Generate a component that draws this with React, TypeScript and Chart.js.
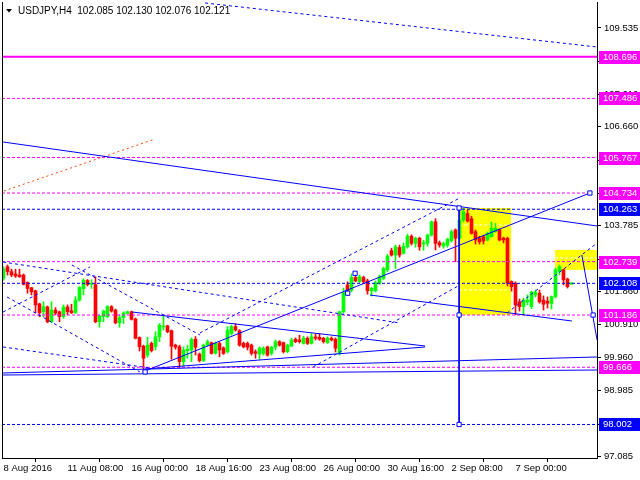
import React, { useEffect, useRef } from 'react';
import { Chart, registerables } from 'chart.js';
Chart.register(...registerables);

// ---- candle data (H4 bars, index 0 = 8 Aug 2016 16:00) ----
const OPEN = [102.26,102.59,102.45,102.38,102.35,102.35,102.13,101.98,101.89,101.51,101.28,101.42,100.99,101.33,101.28,101.14,101.42,101.31,101.25,101.62,101.95,102.19,102.08,102.07,100.99,101.14,101.14,101.43,101.33,100.96,101.11,101.23,101.28,101.07,100.53,100.28,100.02,100.36,100.26,100.55,100.84,100.87,100.73,100.31,100.26,99.83,100.15,100.17,100.48,100.05,99.86,100.31,100.38,100.07,100.36,100.23,100.12,100.65,100.85,100.73,100.36,100.36,100.31,100.12,100.05,100.07,100.26,100.07,100.25,100.41,100.38,100.12,100.29,100.48,100.46,100.36,100.51,100.36,100.55,100.54,100.51,100.38,100.51,100.48,100.07,101.28,102.06,101.91,102.28,102.16,102.28,102.18,101.89,101.89,102.11,102.25,102.50,103.06,102.93,103.15,102.98,103.17,103.48,103.27,103.42,103.25,103.27,103.51,103.90,103.29,103.19,103.22,103.35,103.66,103.42,103.95,104.14,103.99,103.61,103.42,103.46,103.37,103.46,103.61,103.66,103.42,103.42,102.16,102.11,101.57,101.43,101.57,101.43,101.77,101.82,101.62,101.59,101.52,101.72,102.45,102.50,102.23,102.085];
const HIGH = [102.59,102.64,102.52,102.52,102.52,102.38,102.15,101.99,101.91,101.53,101.57,101.45,101.57,101.40,101.30,101.48,101.48,101.50,101.72,102.01,102.24,102.22,102.21,102.30,101.19,101.33,101.46,101.46,101.36,101.19,101.28,101.30,101.30,101.10,100.55,100.31,100.54,100.40,100.70,100.94,101.19,100.89,100.75,100.34,100.31,100.26,100.31,100.52,100.56,100.08,100.34,100.46,100.40,100.40,100.40,100.26,100.85,100.89,100.94,100.76,100.40,100.40,100.34,100.17,100.26,100.26,100.28,100.28,100.46,100.44,100.40,100.34,100.51,100.52,100.60,100.57,100.55,100.65,100.63,100.65,100.54,100.55,100.55,100.52,101.30,101.97,102.15,102.38,102.45,102.35,102.32,102.23,101.99,102.18,102.35,102.58,102.95,103.13,103.22,103.22,103.28,103.54,103.52,103.45,103.45,103.36,103.54,103.92,103.99,103.34,103.31,103.42,103.66,103.69,104.24,104.29,104.24,104.06,103.66,103.48,103.51,103.60,103.89,103.85,103.69,103.45,103.45,102.18,102.15,101.65,101.68,101.77,101.88,101.91,101.91,101.74,101.71,101.74,102.55,102.64,102.52,102.26,102.130];
const LOW = [102.20,102.35,102.30,102.28,102.28,102.06,101.82,101.77,101.25,101.14,101.14,100.96,100.96,101.19,100.99,101.09,101.19,101.23,101.23,101.59,101.77,102.03,101.96,100.96,100.83,100.99,101.11,101.27,100.93,100.83,100.94,101.21,101.04,100.49,100.14,99.53,99.96,100.11,100.17,100.41,100.75,100.67,99.90,100.19,99.64,99.69,99.93,99.83,100.02,99.82,99.83,100.28,100.05,100.05,99.97,100.04,100.08,100.60,100.72,100.28,100.23,100.17,100.02,99.93,99.90,100.02,99.99,100.02,100.17,100.28,100.08,100.09,100.26,100.38,100.37,100.34,100.33,100.34,100.46,100.45,100.37,100.36,100.43,100.11,100.02,101.24,101.86,101.86,102.15,102.12,102.12,101.79,101.74,101.86,102.08,102.22,102.44,102.90,102.54,102.87,102.96,103.13,103.22,103.16,103.07,103.07,103.19,103.48,103.08,103.16,103.13,103.16,103.31,102.74,103.39,103.89,103.89,103.54,103.25,103.25,103.25,103.34,103.45,103.59,103.34,103.28,102.03,101.88,101.19,101.30,101.19,101.48,101.37,101.71,101.53,101.33,101.39,101.36,101.68,102.35,102.06,101.97,102.076];
const CLOSE = [102.53,102.45,102.35,102.32,102.30,102.08,101.96,101.86,101.48,101.25,101.43,100.99,101.33,101.24,101.14,101.42,101.28,101.25,101.62,101.99,102.19,102.07,102.10,100.99,101.16,101.30,101.43,101.30,100.96,101.11,101.25,101.28,101.06,100.51,100.26,99.93,100.31,100.15,100.55,100.89,100.87,100.70,100.28,100.25,99.83,100.17,100.19,100.48,100.25,99.86,100.31,100.41,100.07,100.36,100.17,100.07,100.75,100.85,100.75,100.31,100.26,100.25,100.07,100.07,100.22,100.22,100.02,100.25,100.41,100.31,100.12,100.31,100.46,100.41,100.41,100.51,100.36,100.55,100.51,100.48,100.41,100.51,100.46,100.22,101.28,101.84,101.89,102.28,102.18,102.30,102.16,101.89,101.96,102.13,102.30,102.54,102.90,102.93,103.17,102.93,103.19,103.48,103.27,103.42,103.17,103.29,103.51,103.90,103.27,103.22,103.27,103.39,103.61,103.42,103.95,104.19,103.92,103.56,103.37,103.32,103.34,103.56,103.71,103.71,103.37,103.37,102.11,102.01,101.48,101.43,101.62,101.62,101.85,101.85,101.57,101.50,101.53,101.72,102.50,102.59,102.21,102.01,102.121];

// ---- axes ----
const X_MIN = -0.375;
const X_MAX = 148.375;
const Y_MIN = 97.027;
const Y_MAX = 110.291;
const X_TICK_BARS = [0, 16, 32, 48, 64, 80, 96, 112, 128];
const X_TICK_LABELS = ['8 Aug 2016', '11 Aug 08:00', '16 Aug 00:00', '18 Aug 16:00', '23 Aug 08:00', '26 Aug 00:00', '30 Aug 16:00', '2 Sep 08:00', '7 Sep 00:00'];
const Y_TICKS = [109.535, 108.56, 107.61, 106.66, 105.685, 104.735, 103.785, 102.81, 101.86, 100.91, 99.96, 98.985, 98.01, 97.085];

// ---- header ----
const SYMBOL = 'USDJPY,H4';
const HEADER_OHLC = [102.085, 102.130, 102.076, 102.121];

// ---- horizontal levels ----
const LEVELS = [108.696, 107.486, 105.767, 104.734, 104.263, 102.739, 102.108, 101.186, 99.666, 98.002];
const LEVEL_KIND = ['strong', 'magenta', 'magenta', 'magenta', 'blue', 'magenta', 'blue', 'magenta', 'magenta', 'blue'];

// ---- trend lines (bar index, price) ----
const TL_X0 = [50.4, -0.1, 0.1, 35.4, -0.1, -0.1, 32.1, 35.4, 91.6, -0.1, -0.1, 0.9, -0.1, 17.1, 49.1, 77.4, 125.9, 144.6, 113.9];
const TL_Y0 = [110.262, 106.219, 104.793, 99.558, 99.500, 99.441, 101.274, 99.616, 101.768, 102.728, 100.256, 101.710, 101.274, 102.641, 100.663, 99.674, 101.245, 102.932, 104.30];
const TL_X1 = [148.4, 148.4, 37.9, 146.6, 148.4, 148.4, 105.4, 105.4, 142.1, 99.1, 36.6, 34.1, 21.6, 49.1, 114.1, 114.1, 148.4, 148.4, 113.9];
const TL_Y1 = [108.982, 103.775, 106.306, 104.735, 99.965, 99.587, 100.285, 100.256, 101.012, 100.954, 99.645, 99.529, 102.583, 100.605, 104.590, 102.059, 103.281, 100.459, 98.002];
const TL_KIND = ['dash', 'solid', 'orange', 'solid', 'solid', 'solid', 'solid', 'solid', 'solid', 'dash', 'dash', 'dash', 'dash', 'dash', 'dash', 'dash', 'dash', 'solid', 'solid'];

// ---- yellow zones ----
const BOX_X0 = [113.9, 137.9];
const BOX_X1 = [126.9, 148.4];
const BOX_TOP = [104.30, 103.08];
const BOX_BOTTOM = [101.19, 102.50];

// ---- white guide lines inside the zones ----
const ZL_X0 = [113.9, 113.9, 137.9];
const ZL_X1 = [126.9, 126.9, 148.4];
const ZL_Y = [103.805, 101.914, 102.845];

// ---- small square markers ----
const MARK_X = [35.4, 86.05, 87.9, 113.9, 113.9, 113.9, 146.6, 147.4];
const MARK_Y = [99.53, 101.82, 102.40, 104.30, 101.186, 98.002, 104.734, 101.186];

const FONT = "'Liberation Sans', Arial, sans-serif";

export default function App() {
  const ref = useRef<HTMLCanvasElement>(null);

  useEffect(() => {
    const canvas = ref.current;
    if (!canvas) return;
    const colors = OPEN.map((o, i) => (CLOSE[i] >= o ? '#00ff00' : '#ff0000'));
    const datasets: any[] = [];

    datasets.push({
      type: 'bar',
      data: OPEN.map((_, i) => ({ x: i, y: [LOW[i], HIGH[i]] })),
      backgroundColor: colors,
      borderWidth: 0,
      barThickness: 1,
      grouped: false,
      order: 20,
    });
    datasets.push({
      type: 'bar',
      data: OPEN.map((o, i) => ({ x: i, y: [o, CLOSE[i]] })),
      backgroundColor: colors,
      borderWidth: 0,
      barThickness: 3,
      minBarLength: 1,
      grouped: false,
      order: 19,
    });

    ZL_Y.forEach((y, k) => {
      datasets.push({
        type: 'line',
        data: [{ x: ZL_X0[k], y }, { x: ZL_X1[k], y }],
        borderColor: '#ffffff',
        borderWidth: 1,
        borderDash: [3, 2],
        pointRadius: 0,
        fill: false,
        tension: 0,
        order: 21,
      });
    });

    LEVELS.forEach((lv, k) => {
      const kind = LEVEL_KIND[k];
      const endX = lv === 104.734 ? 146.6 : X_MAX;
      datasets.push({
        type: 'line',
        data: [{ x: X_MIN, y: lv }, { x: endX, y: lv }],
        borderColor: kind === 'blue' ? '#0000ff' : '#ff00ff',
        borderWidth: kind === 'strong' ? 2 : 1,
        borderDash: kind === 'strong' ? [] : [3, 2],
        pointRadius: 0,
        fill: false,
        tension: 0,
        order: 5,
      });
    });

    TL_X0.forEach((x0, k) => {
      const kind = TL_KIND[k];
      datasets.push({
        type: 'line',
        data: [{ x: x0, y: TL_Y0[k] }, { x: TL_X1[k], y: TL_Y1[k] }],
        borderColor: kind === 'orange' ? '#ff4500' : '#0000ff',
        borderWidth: 1,
        borderDash: kind === 'solid' ? [] : kind === 'orange' ? [2, 3] : [3, 3],
        pointRadius: 0,
        fill: false,
        tension: 0,
        order: 4,
      });
    });

    datasets.push({
      type: 'line',
      data: MARK_X.map((x, k) => ({ x, y: MARK_Y[k] })),
      showLine: false,
      pointStyle: 'rect',
      pointRadius: 3,
      pointBorderWidth: 1,
      pointBackgroundColor: '#ffffff',
      pointBorderColor: '#0000ff',
      order: 1,
    });

    const overlay = {
      id: 'mtOverlay',
      beforeDatasetsDraw(chart: any) {
        const { ctx, scales, chartArea } = chart;
        const xs = scales.x;
        const ys = scales.y;
        ctx.save();
        ctx.beginPath();
        ctx.rect(chartArea.left, chartArea.top, chartArea.right - chartArea.left, chartArea.bottom - chartArea.top);
        ctx.clip();
        ctx.fillStyle = '#ffff00';
        BOX_X0.forEach((x0, k) => {
          const l = xs.getPixelForValue(x0);
          const r = xs.getPixelForValue(BOX_X1[k]);
          const t = ys.getPixelForValue(BOX_TOP[k]);
          const b = ys.getPixelForValue(BOX_BOTTOM[k]);
          ctx.fillRect(l, t, r - l, b - t);
        });
        ctx.restore();
      },
      afterDraw(chart: any) {
        const { ctx, scales, chartArea } = chart;
        const ys = scales.y;
        ctx.save();
        // left frame line
        ctx.strokeStyle = '#000';
        ctx.lineWidth = 1;
        ctx.beginPath();
        ctx.moveTo(chartArea.left + 0.5, chartArea.top);
        ctx.lineTo(chartArea.left + 0.5, chartArea.bottom);
        ctx.stroke();
        // header
        ctx.fillStyle = '#000';
        ctx.beginPath();
        ctx.moveTo(6, 9);
        ctx.lineTo(12, 9);
        ctx.lineTo(9, 12.5);
        ctx.closePath();
        ctx.fill();
        ctx.font = `10px ${FONT}`;
        ctx.textBaseline = 'middle';
        ctx.textAlign = 'left';
        ctx.fillText(`${SYMBOL}  ${HEADER_OHLC.map((v) => v.toFixed(3)).join(' ')}`, 18, 11);
        // price badges
        ctx.font = `9.5px ${FONT}`;
        LEVELS.forEach((lv, k) => {
          const y = Math.round(ys.getPixelForValue(lv));
          ctx.fillStyle = LEVEL_KIND[k] === 'blue' ? '#0000ff' : '#ff00ff';
          ctx.fillRect(chartArea.right + 2, y - 6, 42, 13);
          ctx.fillStyle = '#ffffff';
          ctx.fillText(lv.toFixed(3), chartArea.right + 6, y + 0.5);
        });
        ctx.restore();
      },
    };

    const chart = new Chart(canvas, {
      type: 'bar',
      data: { datasets },
      options: {
        responsive: false,
        animation: false,
        events: [],
        layout: { autoPadding: false, padding: { left: 2, top: 2, right: 0, bottom: 0 } },
        plugins: { legend: { display: false }, tooltip: { enabled: false } },
        scales: {
          x: {
            type: 'linear',
            min: X_MIN,
            max: X_MAX,
            offset: false,
            afterBuildTicks: (s: any) => {
              s.ticks = X_TICK_BARS.map((v) => ({ value: v }));
            },
            afterFit: (s: any) => {
              s.height = 22;
              s.paddingLeft = 0;
              s.paddingRight = 0;
            },
            ticks: {
              autoSkip: false,
              maxRotation: 0,
              minRotation: 0,
              align: 'start',
              padding: 1,
              color: '#000',
              font: { family: FONT, size: 9.5 },
              callback: (v: any) => {
                const k = X_TICK_BARS.indexOf(Number(v));
                return k >= 0 ? X_TICK_LABELS[k] : '';
              },
            },
            grid: { drawOnChartArea: false, drawTicks: true, tickLength: 4, color: '#000' },
            border: { display: true, color: '#000' },
          },
          y: {
            position: 'right',
            min: Y_MIN,
            max: Y_MAX,
            afterBuildTicks: (s: any) => {
              s.ticks = Y_TICKS.map((v) => ({ value: v }));
            },
            afterFit: (s: any) => {
              s.width = 43;
              s.paddingTop = 0;
              s.paddingBottom = 0;
            },
            ticks: {
              color: '#000',
              padding: 3,
              font: { family: FONT, size: 9.5 },
              callback: (v: any) => Number(v).toFixed(3),
            },
            grid: { drawOnChartArea: false, drawTicks: true, tickLength: 4, color: '#000' },
            border: { display: true, color: '#000' },
          },
        },
      } as any,
      plugins: [overlay],
    });
    return () => chart.destroy();
  }, []);

  return (
    <div style={{ position: 'absolute', left: 0, top: 0, width: 640, height: 480, background: '#fff' }}>
      <canvas ref={ref} width={640} height={480} style={{ display: 'block' }} />
    </div>
  );
}
